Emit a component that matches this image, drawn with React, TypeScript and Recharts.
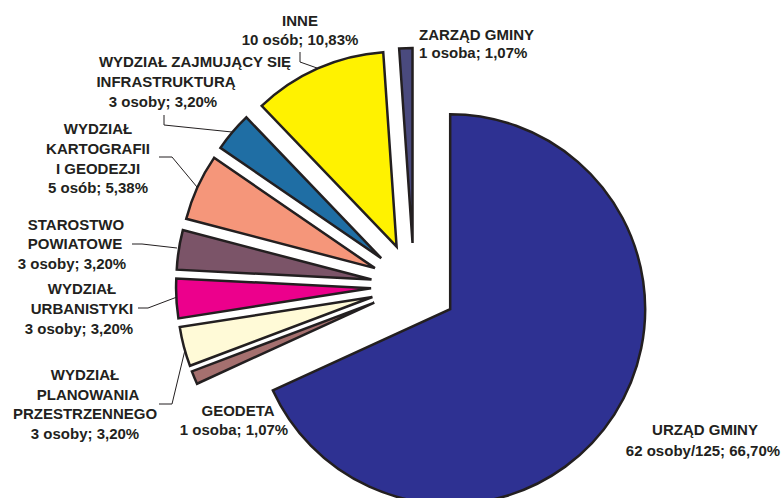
import React from 'react';
import { PieChart, Pie, Sector } from 'recharts';

// ---- data ----
const categories = [
  'URZĄD GMINY',
  'GEODETA',
  'WYDZIAŁ PLANOWANIA PRZESTRZENNEGO',
  'WYDZIAŁ URBANISTYKI',
  'STAROSTWO POWIATOWE',
  'WYDZIAŁ KARTOGRAFII I GEODEZJI',
  'WYDZIAŁ ZAJMUJĄCY SIĘ INFRASTRUKTURĄ',
  'INNE',
  'ZARZĄD GMINY',
];
const nameLines = [
  ['URZĄD GMINY'],
  ['GEODETA'],
  ['WYDZIAŁ', 'PLANOWANIA', 'PRZESTRZENNEGO'],
  ['WYDZIAŁ', 'URBANISTYKI'],
  ['STAROSTWO', 'POWIATOWE'],
  ['WYDZIAŁ', 'KARTOGRAFII', 'I GEODEZJI'],
  ['WYDZIAŁ ZAJMUJĄCY SIĘ', 'INFRASTRUKTURĄ'],
  ['INNE'],
  ['ZARZĄD GMINY'],
];
const headcounts = ['62 osoby/125', '1 osoba', '3 osoby', '3 osoby', '3 osoby', '5 osób', '3 osoby', '10 osób', '1 osoba'];
const percents = [66.7, 1.07, 3.2, 3.2, 3.2, 5.38, 3.2, 10.83, 1.07];
const colors = ['#2e3192', '#a5706f', '#fffad7', '#ec008c', '#7b5468', '#f5967a', '#1f6ea4', '#fff200', '#4a4a7e'];

const chartData = categories.map((name, i) => ({ name, value: percents[i] }));

// ---- layout (label placement, page px) ----
type Lay = { xs: number[]; ys: number[]; anchor: 'start' | 'middle' | 'end'; leader?: number[][] };
const LABEL_LAYOUT: Lay[] = [
  { xs: [705, 703], ys: [429, 450], anchor: 'middle' },
  { xs: [238, 234], ys: [410, 429], anchor: 'middle' },
  { xs: [85, 88, 85, 85], ys: [374, 394, 413, 433], anchor: 'middle', leader: [[159, 404], [172, 404], [185, 350]] },
  { xs: [82, 82, 79], ys: [288, 308, 328], anchor: 'middle', leader: [[138, 308], [148, 308], [177, 297]] },
  { xs: [76, 75, 72], ys: [224, 243, 263], anchor: 'middle', leader: [[132, 244], [142, 244], [177, 248]] },
  { xs: [98, 98, 98, 98], ys: [128, 148, 168, 187], anchor: 'middle', leader: [[159, 157], [172, 157], [197, 187]] },
  { xs: [195, 166, 163], ys: [61, 81, 101], anchor: 'middle', leader: [[164, 115], [164, 125], [232, 132]] },
  { xs: [300, 300], ys: [20, 39], anchor: 'middle', leader: [[300, 52], [300, 62], [317, 68]] },
  { xs: [419, 419], ys: [34, 52], anchor: 'start' },
];

const EXPLODE = 43;
const INK = '#231f20';
const fmtPct = (v: number) => v.toFixed(2).replace('.', ',');

const renderSlice = (props: any) => {
  const { cx, cy, outerRadius, startAngle, endAngle, midAngle, index } = props;
  const rad = Math.PI / 180;
  const dx = EXPLODE * Math.cos(-midAngle * rad);
  const dy = EXPLODE * Math.sin(-midAngle * rad);
  const lay = LABEL_LAYOUT[index];
  const lines = [...nameLines[index], `${headcounts[index]}; ${fmtPct(percents[index])}%`];
  return (
    <g key={`slice-${index}`}>
      <Sector
        cx={cx + dx}
        cy={cy + dy}
        innerRadius={0}
        outerRadius={outerRadius}
        startAngle={startAngle}
        endAngle={endAngle}
        fill={colors[index]}
        stroke={INK}
        strokeWidth={2.5}
      />
      {lay.leader && (
        <polyline
          points={lay.leader.map((p) => p.join(',')).join(' ')}
          fill="none"
          stroke={INK}
          strokeWidth={1}
        />
      )}
      {lines.map((t, i) => (
        <text
          key={i}
          x={lay.xs[i]}
          y={lay.ys[i]}
          textAnchor={lay.anchor}
          dominantBaseline="central"
          fontFamily="'Liberation Sans', Arial, sans-serif"
          fontWeight="bold"
          fontSize={15}
          fill={INK}
          stroke="none"
        >
          {t}
        </text>
      ))}
    </g>
  );
};

export default function App() {
  return (
    <div style={{ position: 'absolute', left: 0, top: 0, width: 784, height: 498, background: '#fff' }}>
      <PieChart width={784} height={498} margin={{ top: 0, right: 0, bottom: 0, left: 0 }}>
        <Pie
          data={chartData}
          dataKey="value"
          nameKey="name"
          cx={414}
          cy={286}
          innerRadius={0}
          outerRadius={195}
          startAngle={90}
          endAngle={-270}
          fill="none"
          stroke="none"
          label={renderSlice}
          labelLine={false}
          isAnimationActive={false}
        />
      </PieChart>
    </div>
  );
}
